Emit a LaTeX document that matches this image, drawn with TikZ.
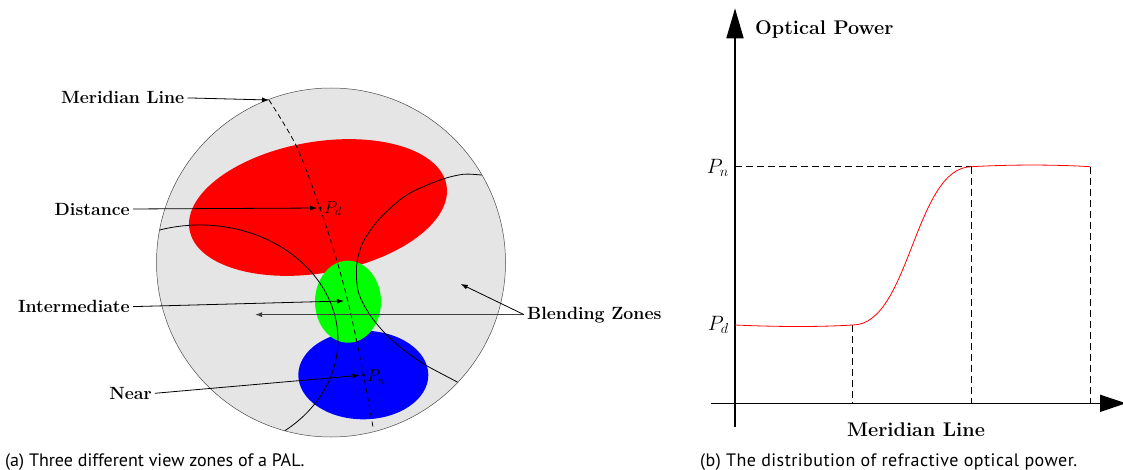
\documentclass[tikz,border=0pt]{standalone}
\usepackage{fontspec}
\newfontfamily\capfont{PT Sans}
\newfontfamily\capfontwide[LetterSpace=2.6]{PT Sans}
\usetikzlibrary{arrows.meta}
\tikzset{
  lbl/.style={font=\fontsize{17.7}{20}\selectfont\bfseries, inner sep=3pt},
  biglbl/.style={font=\fontsize{19.8}{22}\selectfont\bfseries, inner sep=0pt},
  captext/.style={font=\capfont\fontsize{18}{20}\selectfont, inner sep=0pt},
  captextwide/.style={font=\capfontwide\fontsize{18}{20}\selectfont, inner sep=0pt},
  arr/.style={line width=0.8pt, -{Latex[length=7pt,width=5pt]}},
  axisline/.style={line width=1.6pt},
  guide/.style={line width=0.8pt, dash pattern=on 7pt off 4pt},
  arcline/.style={line width=0.8pt}
}
\begin{document}
\begin{tikzpicture}[x=1pt,y=-1pt]
\useasboundingbox (0,0) rectangle (1123,470);
% ---------- (a) lens ----------
\fill[black!10] (331,262.5) circle (174.5);
\fill[red, rotate around={9.8:(318,207.5)}] (318,207.5) ellipse [x radius=130.4, y radius=65.6];
\fill[blue] (363.3,375) ellipse [x radius=65, y radius=44.3];
\fill[green] (348,301.7) ellipse [x radius=33, y radius=41];
\begin{scope}
  \clip (331,262.5) circle (174.5);
  \draw[arcline] (200,340) ellipse [x radius=138, y radius=115];
  \draw[arcline] plot[smooth] coordinates {(500,176) (481.7,175) (463.3,174.3) (440,180) (406.7,195) (380,218.3) (363.3,241.7) (356.7,265) (358.3,291.7) (370,315) (390,338.3) (420,361.7) (456.7,381.7) (475,392)};
\end{scope}
\draw[black!70, line width=0.5pt] (331,262.5) circle (174.5);
% meridian
\coordinate (mtop) at (269,100);
\coordinate (Pd) at (320,208);
\coordinate (Pn) at (363.5,375);
\coordinate (mbot) at (373,427);
\draw[line width=0.8pt, dash pattern=on 5pt off 3.5pt] plot[smooth] coordinates {(mtop) (296.7,146.7) (Pd) (336.7,260) (350,310) (Pn) (mbot)};
\fill (Pd) circle (1.6);
\fill (Pn) circle (1.6);
\node[anchor=base west, inner sep=0, font=\fontsize{17.7}{20}\selectfont] (pdl) at (324,213.3) {$P_d$};
\node[anchor=base west, inner sep=0, font=\fontsize{17.7}{20}\selectfont] (pnl) at (367,381.7) {$P_n$};
% labels
\node[lbl, anchor=base east] (lml) at (187.5,104) {Meridian Line};
\node[lbl, anchor=base east] (ldist) at (133,215) {Distance};
\node[lbl, anchor=base east] (linter) at (133,312.7) {Intermediate};
\node[lbl, anchor=base east] (lnear) at (155,399.3) {Near};
\node[lbl, anchor=base west] (lbz) at (524,319) {Blending Zones};
\coordinate (imid) at (344,301);
\coordinate (bl) at (255,316);
\coordinate (br) at (460.7,284);
\draw[arr] (lml.east) -- (mtop);
\draw[arr, shorten >=3pt] (ldist.east) -- (Pd);
\draw[arr] (linter.east) -- (imid);
\draw[arr, shorten >=4pt] (lnear.east) -- (Pn);
\draw[arr, black!75, line width=1.1pt] (lbz.west) -- (lbz.west -| bl);
\draw[arr] (lbz.west) -- (br);
\node[captext, anchor=base west] (capa) at (5,466) {(a) Three different view zones of a PAL.};
% ---------- (b) plot ----------
\coordinate (ybot) at (735,427);
\coordinate (ytop) at (735,8.3);
\coordinate (xleft) at (711,403.3);
\coordinate (xright) at (1126,403.3);
\draw[axisline, -{Triangle[length=30pt,width=17pt]}] (ybot) -- (ytop);
\draw[axisline, -{Triangle[length=26pt,width=17pt]}] (xleft) -- (xright);
\coordinate (a1) at (735,325);
\coordinate (a2) at (852.7,325);
\coordinate (a3) at (971.7,166.7);
\coordinate (a4) at (1090,166.7);
\coordinate (yn) at (735,166.7);
\draw[guide] (yn) -- (a3);
\draw[guide] (a2) -- (a2 |- xleft);
\draw[guide] (a3) -- (a3 |- xleft);
\draw[guide] (a4) -- (a4 |- xleft);
\draw[red, line width=0.8pt] (a1) .. controls (780,327) and (820,327) .. (a2)
  .. controls (910,325) and (914.4,166.7) .. (a3)
  .. controls (1010,164.5) and (1055,164.5) .. (a4);
\node[biglbl, anchor=base west] (op) at (755,34.3) {Optical Power};
\node[biglbl, anchor=base] (ml) at (916,436.7) {Meridian Line};
\node[anchor=base east, inner sep=0, font=\fontsize{19.8}{22}\selectfont] (pnb) at (729,173.3) {$P_n$};
\node[anchor=base east, inner sep=0, font=\fontsize{19.8}{22}\selectfont] (pdb) at (729,330) {$P_d$};
\node[captextwide, anchor=base west] (capb) at (700,466) {(b) The distribution of refractive optical power.};
\end{tikzpicture}
\end{document}
